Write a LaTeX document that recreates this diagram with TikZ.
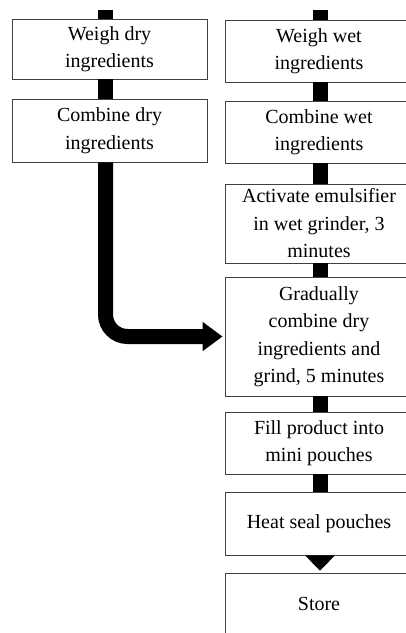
\documentclass[tikz,border=0pt]{standalone}
\usepackage{fontspec}
\setmainfont{Liberation Serif}
\usetikzlibrary{arrows.meta,calc}
\begin{document}
\begin{tikzpicture}[x=1pt,y=-1pt,
 box/.style={draw=black!75, line width=0.9pt, fill=white, align=center, inner sep=0pt, font=\fontsize{20}{27.5}\selectfont},
 lbox/.style={box, minimum width=195pt},
 rbox/.style={box, minimum width=188pt},
 bar/.style={line width=15pt, black},
]
\useasboundingbox (0,0) rectangle (406,633);
\clip (0,0) rectangle (406,633);
\coordinate (lx) at (105.5,10);
\coordinate (rx) at (320,10);
% left column
\node[lbox, minimum height=60pt] (wd) at (109.5,49) {Weigh dry\\ingredients};
\node[lbox, minimum height=63pt] (cd) at (109.5,130.5) {Combine dry\\ingredients};
% right column
\node[rbox, minimum height=62pt] (ww) at (319,51) {Weigh wet\\ingredients};
\node[rbox, minimum height=62pt] (cw) at (319,132) {\raisebox{-4pt}{Combine wet}\\\raisebox{-4pt}{ingredients}};
\node[rbox, minimum height=79pt] (ac) at (319,223.5) {Activate emulsifier\\in wet grinder, 3\\minutes};
\node[rbox, minimum height=119pt] (gr) at (319,336.5) {Gradually\\combine dry\\ingredients and\\grind, 5 minutes};
\node[rbox, minimum height=62pt] (fi) at (319,443) {Fill product into\\mini pouches};
\node[rbox, minimum height=63pt] (hs) at (319,523.5) {Heat seal pouches};
\node[rbox, minimum height=62pt] (st) at (319,604) {Store};
% connectors
\draw[bar] (lx) -- (wd.north -| lx);
\draw[bar] (wd.south -| lx) -- (cd.north -| lx);
\draw[bar, rounded corners=22pt, -{Triangle[width=28pt,length=20pt]}] (cd.south -| lx) |- ($(gr.west)+(-2,0)$);
\draw[bar] (rx) -- (ww.north -| rx);
\draw[bar] (ww.south -| rx) -- (cw.north -| rx);
\draw[bar] (cw.south -| rx) -- (ac.north -| rx);
\draw[bar] (ac.south -| rx) -- (gr.north -| rx);
\draw[bar] (gr.south -| rx) -- (fi.north -| rx);
\draw[bar] (fi.south -| rx) -- (hs.north -| rx);
\fill[black] ($(hs.south -| rx)+(-15,0)$) -- ($(hs.south -| rx)+(15,0)$) -- ($(st.north -| rx)+(0,-2)$) -- cycle;
\end{tikzpicture}
\end{document}
